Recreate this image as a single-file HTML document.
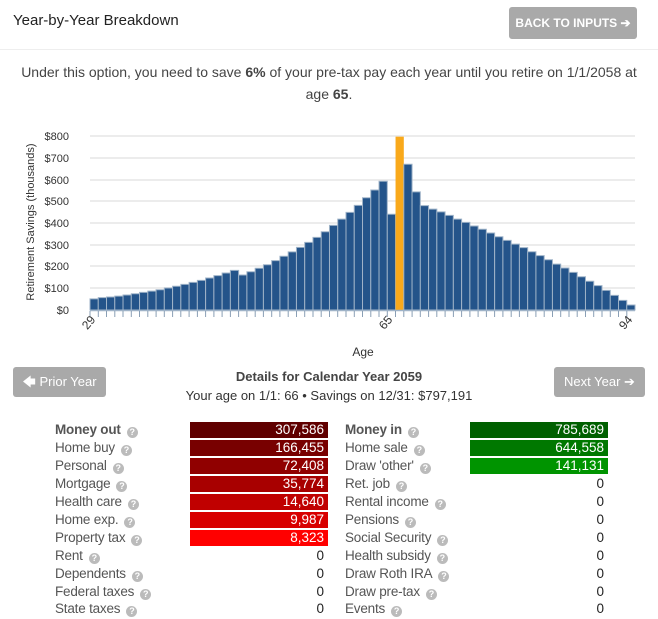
<!DOCTYPE html>
<html><head><meta charset="utf-8"><style>
body{margin:0;width:658px;height:619px;background:#fff;font-family:"Liberation Sans",sans-serif;color:#444;position:relative;overflow:hidden}
.a{position:absolute}
.btn{position:absolute;background:#a9a9a9;color:#fff;border-radius:3px;font-size:13px;text-align:center}
.row{position:absolute;font-size:13.5px;color:#555;height:18px;line-height:18px;letter-spacing:-0.2px}
.q{display:inline-block;width:11px;height:11px;border-radius:50%;background:#bbb;color:#fff;font-size:9px;line-height:11px;text-align:center;font-weight:bold;margin-left:6px;vertical-align:-1px}
.v{position:absolute;height:16px;line-height:16px;font-size:13.5px;text-align:right;color:#fff;padding-right:4px;box-sizing:border-box}
.z{color:#222}
</style></head><body>
<div class="a" style="left:13px;top:12px;font-size:15px;color:#222">Year-by-Year Breakdown</div>
<div class="btn" style="left:509px;top:7px;width:128px;height:32px;line-height:32px;font-weight:bold;font-size:12px">BACK TO INPUTS ➔</div>
<div class="a" style="left:0;top:49px;width:658px;height:1px;background:#eee"></div>
<div class="a" style="left:0;top:61px;width:658px;text-align:center;font-size:14px;line-height:22px;color:#444">Under this option, you need to save <b>6%</b> of your pre-tax pay each year until you retire on 1/1/2058 at<br>age <b>65</b>.</div>
<svg class="a" style="left:0;top:0" width="658" height="370">
<g stroke="#e6e6e6" stroke-width="1.5">
<line x1="90" x2="635" y1="136" y2="136"/><line x1="90" x2="635" y1="158" y2="158"/><line x1="90" x2="635" y1="180" y2="180"/><line x1="90" x2="635" y1="201" y2="201"/><line x1="90" x2="635" y1="223" y2="223"/><line x1="90" x2="635" y1="245" y2="245"/><line x1="90" x2="635" y1="266" y2="266"/><line x1="90" x2="635" y1="288" y2="288"/>
</g>
<g font-size="11" fill="#333" text-anchor="end">
<text x="69" y="140">$800</text><text x="69" y="162">$700</text><text x="69" y="184">$600</text><text x="69" y="205">$500</text><text x="69" y="227">$400</text><text x="69" y="249">$300</text><text x="69" y="270">$200</text><text x="69" y="292">$100</text><text x="69" y="314">$0</text>
</g>
<text transform="translate(34,222) rotate(-90)" font-size="11" fill="#333" text-anchor="middle">Retirement Savings (thousands)</text>
<g transform="translate(90,310) scale(8.258,-0.2175)" fill="#24548a" stroke="#9fb3c8" stroke-width="1">
<rect vector-effect="non-scaling-stroke" x="0" width="1" height="51"/><rect vector-effect="non-scaling-stroke" x="1" width="1" height="57"/><rect vector-effect="non-scaling-stroke" x="2" width="1" height="60"/><rect vector-effect="non-scaling-stroke" x="3" width="1" height="64"/><rect vector-effect="non-scaling-stroke" x="4" width="1" height="69"/><rect vector-effect="non-scaling-stroke" x="5" width="1" height="75"/><rect vector-effect="non-scaling-stroke" x="6" width="1" height="81"/><rect vector-effect="non-scaling-stroke" x="7" width="1" height="87"/><rect vector-effect="non-scaling-stroke" x="8" width="1" height="93"/><rect vector-effect="non-scaling-stroke" x="9" width="1" height="101"/><rect vector-effect="non-scaling-stroke" x="10" width="1" height="109"/><rect vector-effect="non-scaling-stroke" x="11" width="1" height="118"/><rect vector-effect="non-scaling-stroke" x="12" width="1" height="127"/><rect vector-effect="non-scaling-stroke" x="13" width="1" height="136"/><rect vector-effect="non-scaling-stroke" x="14" width="1" height="147"/><rect vector-effect="non-scaling-stroke" x="15" width="1" height="158"/><rect vector-effect="non-scaling-stroke" x="16" width="1" height="170"/><rect vector-effect="non-scaling-stroke" x="17" width="1" height="182"/><rect vector-effect="non-scaling-stroke" x="18" width="1" height="161"/><rect vector-effect="non-scaling-stroke" x="19" width="1" height="176"/><rect vector-effect="non-scaling-stroke" x="20" width="1" height="192"/><rect vector-effect="non-scaling-stroke" x="21" width="1" height="208"/><rect vector-effect="non-scaling-stroke" x="22" width="1" height="227"/><rect vector-effect="non-scaling-stroke" x="23" width="1" height="247"/><rect vector-effect="non-scaling-stroke" x="24" width="1" height="267"/><rect vector-effect="non-scaling-stroke" x="25" width="1" height="288"/><rect vector-effect="non-scaling-stroke" x="26" width="1" height="311"/><rect vector-effect="non-scaling-stroke" x="27" width="1" height="334"/><rect vector-effect="non-scaling-stroke" x="28" width="1" height="360"/><rect vector-effect="non-scaling-stroke" x="29" width="1" height="389"/><rect vector-effect="non-scaling-stroke" x="30" width="1" height="418"/><rect vector-effect="non-scaling-stroke" x="31" width="1" height="449"/><rect vector-effect="non-scaling-stroke" x="32" width="1" height="481"/><rect vector-effect="non-scaling-stroke" x="33" width="1" height="516"/><rect vector-effect="non-scaling-stroke" x="34" width="1" height="552"/><rect vector-effect="non-scaling-stroke" x="35" width="1" height="592"/><rect vector-effect="non-scaling-stroke" x="36" width="1" height="440"/><rect vector-effect="non-scaling-stroke" x="37" width="1" height="797" fill="#f9a91b" stroke="none"/><rect vector-effect="non-scaling-stroke" x="38" width="1" height="670"/><rect vector-effect="non-scaling-stroke" x="39" width="1" height="543"/><rect vector-effect="non-scaling-stroke" x="40" width="1" height="480"/><rect vector-effect="non-scaling-stroke" x="41" width="1" height="464"/><rect vector-effect="non-scaling-stroke" x="42" width="1" height="451"/><rect vector-effect="non-scaling-stroke" x="43" width="1" height="435"/><rect vector-effect="non-scaling-stroke" x="44" width="1" height="418"/><rect vector-effect="non-scaling-stroke" x="45" width="1" height="403"/><rect vector-effect="non-scaling-stroke" x="46" width="1" height="386"/><rect vector-effect="non-scaling-stroke" x="47" width="1" height="371"/><rect vector-effect="non-scaling-stroke" x="48" width="1" height="354"/><rect vector-effect="non-scaling-stroke" x="49" width="1" height="337"/><rect vector-effect="non-scaling-stroke" x="50" width="1" height="320"/><rect vector-effect="non-scaling-stroke" x="51" width="1" height="303"/><rect vector-effect="non-scaling-stroke" x="52" width="1" height="287"/><rect vector-effect="non-scaling-stroke" x="53" width="1" height="268"/><rect vector-effect="non-scaling-stroke" x="54" width="1" height="250"/><rect vector-effect="non-scaling-stroke" x="55" width="1" height="231"/><rect vector-effect="non-scaling-stroke" x="56" width="1" height="211"/><rect vector-effect="non-scaling-stroke" x="57" width="1" height="193"/><rect vector-effect="non-scaling-stroke" x="58" width="1" height="173"/><rect vector-effect="non-scaling-stroke" x="59" width="1" height="153"/><rect vector-effect="non-scaling-stroke" x="60" width="1" height="132"/><rect vector-effect="non-scaling-stroke" x="61" width="1" height="112"/><rect vector-effect="non-scaling-stroke" x="62" width="1" height="90"/><rect vector-effect="non-scaling-stroke" x="63" width="1" height="67"/><rect vector-effect="non-scaling-stroke" x="64" width="1" height="44"/><rect vector-effect="non-scaling-stroke" x="65" width="1" height="23"/>
</g>
<line x1="90" x2="635" y1="310.5" y2="310.5" stroke="#9fb3c8" stroke-width="1.5"/>
<path d="M90 311v6M98.3 311v6M106.5 311v6M114.8 311v6M123 311v6M131.3 311v6M139.5 311v6M147.8 311v6M156.1 311v6M164.3 311v6M172.6 311v6M180.8 311v6M189.1 311v6M197.4 311v6M205.6 311v6M213.9 311v6M222.1 311v6M230.4 311v6M238.6 311v6M246.9 311v6M255.2 311v6M263.4 311v6M271.7 311v6M279.9 311v6M288.2 311v6M296.5 311v6M304.7 311v6M313 311v6M321.2 311v6M329.5 311v6M337.7 311v6M346 311v6M354.3 311v6M362.5 311v6M370.8 311v6M379 311v6M387.3 311v6M395.5 311v6M403.8 311v6M412.1 311v6M420.3 311v6M428.6 311v6M436.8 311v6M445.1 311v6M453.4 311v6M461.6 311v6M469.9 311v6M478.1 311v6M486.4 311v6M494.6 311v6M502.9 311v6M511.2 311v6M519.4 311v6M527.7 311v6M535.9 311v6M544.2 311v6M552.5 311v6M560.7 311v6M569 311v6M577.2 311v6M585.5 311v6M593.7 311v6M602 311v6M610.3 311v6M618.5 311v6M626.8 311v6" stroke="#8a9fb5" stroke-width="1"/>
<g font-size="12" fill="#333" text-anchor="end">
<text transform="translate(96,320) rotate(-50)">29</text>
<text transform="translate(393,320) rotate(-50)">65</text>
<text transform="translate(633,320) rotate(-50)">94</text>
</g>
<text x="363" y="356" font-size="12" fill="#333" text-anchor="middle">Age</text>
</svg>
<div class="btn" style="left:13px;top:367px;width:93px;height:30px;line-height:30px">🡄 Prior Year</div>
<div class="btn" style="left:554px;top:367px;width:91px;height:30px;line-height:30px">Next Year ➔</div>
<div class="a" style="left:0;top:369px;width:658px;text-align:center;font-size:13px;font-weight:bold;color:#444">Details for Calendar Year 2059</div>
<div class="a" style="left:0;top:388px;width:658px;text-align:center;font-size:13px;color:#333">Your age on 1/1: 66 • Savings on 12/31: $797,191</div>

<div class="row" style="left:55px;top:421px;font-weight:bold">Money out<span class="q">?</span></div>
<div class="row" style="left:55px;top:439px">Home buy<span class="q">?</span></div>
<div class="row" style="left:55px;top:457px">Personal<span class="q">?</span></div>
<div class="row" style="left:55px;top:475px">Mortgage<span class="q">?</span></div>
<div class="row" style="left:55px;top:493px">Health care<span class="q">?</span></div>
<div class="row" style="left:55px;top:511px">Home exp.<span class="q">?</span></div>
<div class="row" style="left:55px;top:529px">Property tax<span class="q">?</span></div>
<div class="row" style="left:55px;top:547px">Rent<span class="q">?</span></div>
<div class="row" style="left:55px;top:565px">Dependents<span class="q">?</span></div>
<div class="row" style="left:55px;top:583px">Federal taxes<span class="q">?</span></div>
<div class="row" style="left:55px;top:600px">State taxes<span class="q">?</span></div>

<div class="v" style="left:190px;top:422px;width:138px;background:#600000">307,586</div>
<div class="v" style="left:190px;top:440px;width:138px;background:#780000">166,455</div>
<div class="v" style="left:190px;top:458px;width:138px;background:#900000">72,408</div>
<div class="v" style="left:190px;top:476px;width:138px;background:#a80000">35,774</div>
<div class="v" style="left:190px;top:494px;width:138px;background:#c00000">14,640</div>
<div class="v" style="left:190px;top:512px;width:138px;background:#d80000">9,987</div>
<div class="v" style="left:190px;top:530px;width:138px;background:#ff0000">8,323</div>
<div class="v z" style="left:190px;top:548px;width:138px">0</div>
<div class="v z" style="left:190px;top:566px;width:138px">0</div>
<div class="v z" style="left:190px;top:584px;width:138px">0</div>
<div class="v z" style="left:190px;top:601px;width:138px">0</div>

<div class="row" style="left:345px;top:421px;font-weight:bold">Money in<span class="q">?</span></div>
<div class="row" style="left:345px;top:439px">Home sale<span class="q">?</span></div>
<div class="row" style="left:345px;top:457px">Draw 'other'<span class="q">?</span></div>
<div class="row" style="left:345px;top:475px">Ret. job<span class="q">?</span></div>
<div class="row" style="left:345px;top:493px">Rental income<span class="q">?</span></div>
<div class="row" style="left:345px;top:511px">Pensions<span class="q">?</span></div>
<div class="row" style="left:345px;top:529px">Social Security<span class="q">?</span></div>
<div class="row" style="left:345px;top:547px">Health subsidy<span class="q">?</span></div>
<div class="row" style="left:345px;top:565px">Draw Roth IRA<span class="q">?</span></div>
<div class="row" style="left:345px;top:583px">Draw pre-tax<span class="q">?</span></div>
<div class="row" style="left:345px;top:600px">Events<span class="q">?</span></div>

<div class="v" style="left:470px;top:422px;width:138px;background:#006000">785,689</div>
<div class="v" style="left:470px;top:440px;width:138px;background:#007800">644,558</div>
<div class="v" style="left:470px;top:458px;width:138px;background:#009400">141,131</div>
<div class="v z" style="left:470px;top:476px;width:138px">0</div>
<div class="v z" style="left:470px;top:494px;width:138px">0</div>
<div class="v z" style="left:470px;top:512px;width:138px">0</div>
<div class="v z" style="left:470px;top:530px;width:138px">0</div>
<div class="v z" style="left:470px;top:548px;width:138px">0</div>
<div class="v z" style="left:470px;top:566px;width:138px">0</div>
<div class="v z" style="left:470px;top:584px;width:138px">0</div>
<div class="v z" style="left:470px;top:601px;width:138px">0</div>
</body></html>
